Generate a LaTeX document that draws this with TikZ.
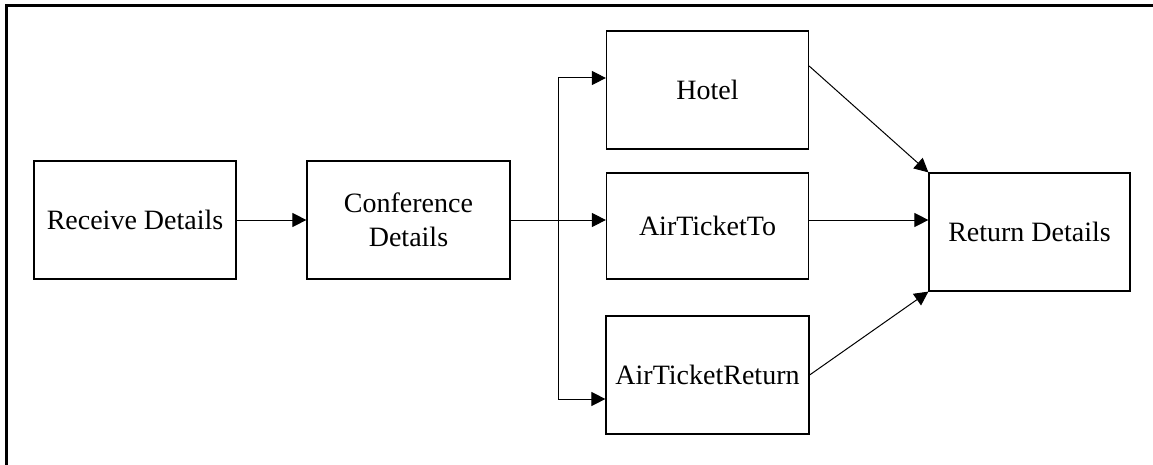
\documentclass[tikz,border=0pt]{standalone}
\usepackage{fontspec}
\setmainfont{Liberation Serif}
\usetikzlibrary{arrows.meta}

\begin{document}
\begin{tikzpicture}[x=1pt, y=-1pt,
    box/.style={draw, line width=1.2pt, inner sep=0pt, align=center,
                font=\fontsize{28}{34}\selectfont},
    arr/.style={-{Triangle[length=14pt, width=14pt]}, line width=1pt}]
            \useasboundingbox (0,0) rectangle (1153,465);
            \draw[line width=3pt] (6,465) -- (6,6) -- (1153,6);

            \node[box, minimum width=202pt, minimum height=118pt] (recv) at (135, 220) {Receive Details};
            \node[box, minimum width=203pt, minimum height=118pt] (conf) at (408.5, 220) {Conference\\Details};

            \node[box, minimum width=202pt, minimum height=118pt] (hotel) at (707.5, 90) {Hotel};
            \node[box, minimum width=202pt, minimum height=106pt] (airto) at (707.5, 226) {AirTicketTo};
            \node[box, minimum width=203pt, minimum height=118pt] (airret) at (707.5, 375) {AirTicketReturn};

            \node[box, minimum width=201pt, minimum height=118pt] (ret) at (1029.5, 232) {Return Details};

            \coordinate (ftop) at (558, 78);
            \coordinate (fbot) at (558, 399);

            \draw[arr] (recv.east) -- (conf.west);
            \draw[arr] (conf.east) -- (conf.east -| airto.west);
            \draw[line width=1pt] (ftop) -- (fbot);
            \draw[arr] (ftop) -- (ftop -| hotel.west);
            \draw[arr] (fbot) -- (fbot -| airret.west);

            \draw[arr] ([yshift=24pt]hotel.east) -- (ret.north west);
            \draw[arr] (airto.east |- conf.east) -- (ret.west |- conf.east);
            \draw[arr] (airret.east) -- (ret.south west);
        \end{tikzpicture}
\end{document}
